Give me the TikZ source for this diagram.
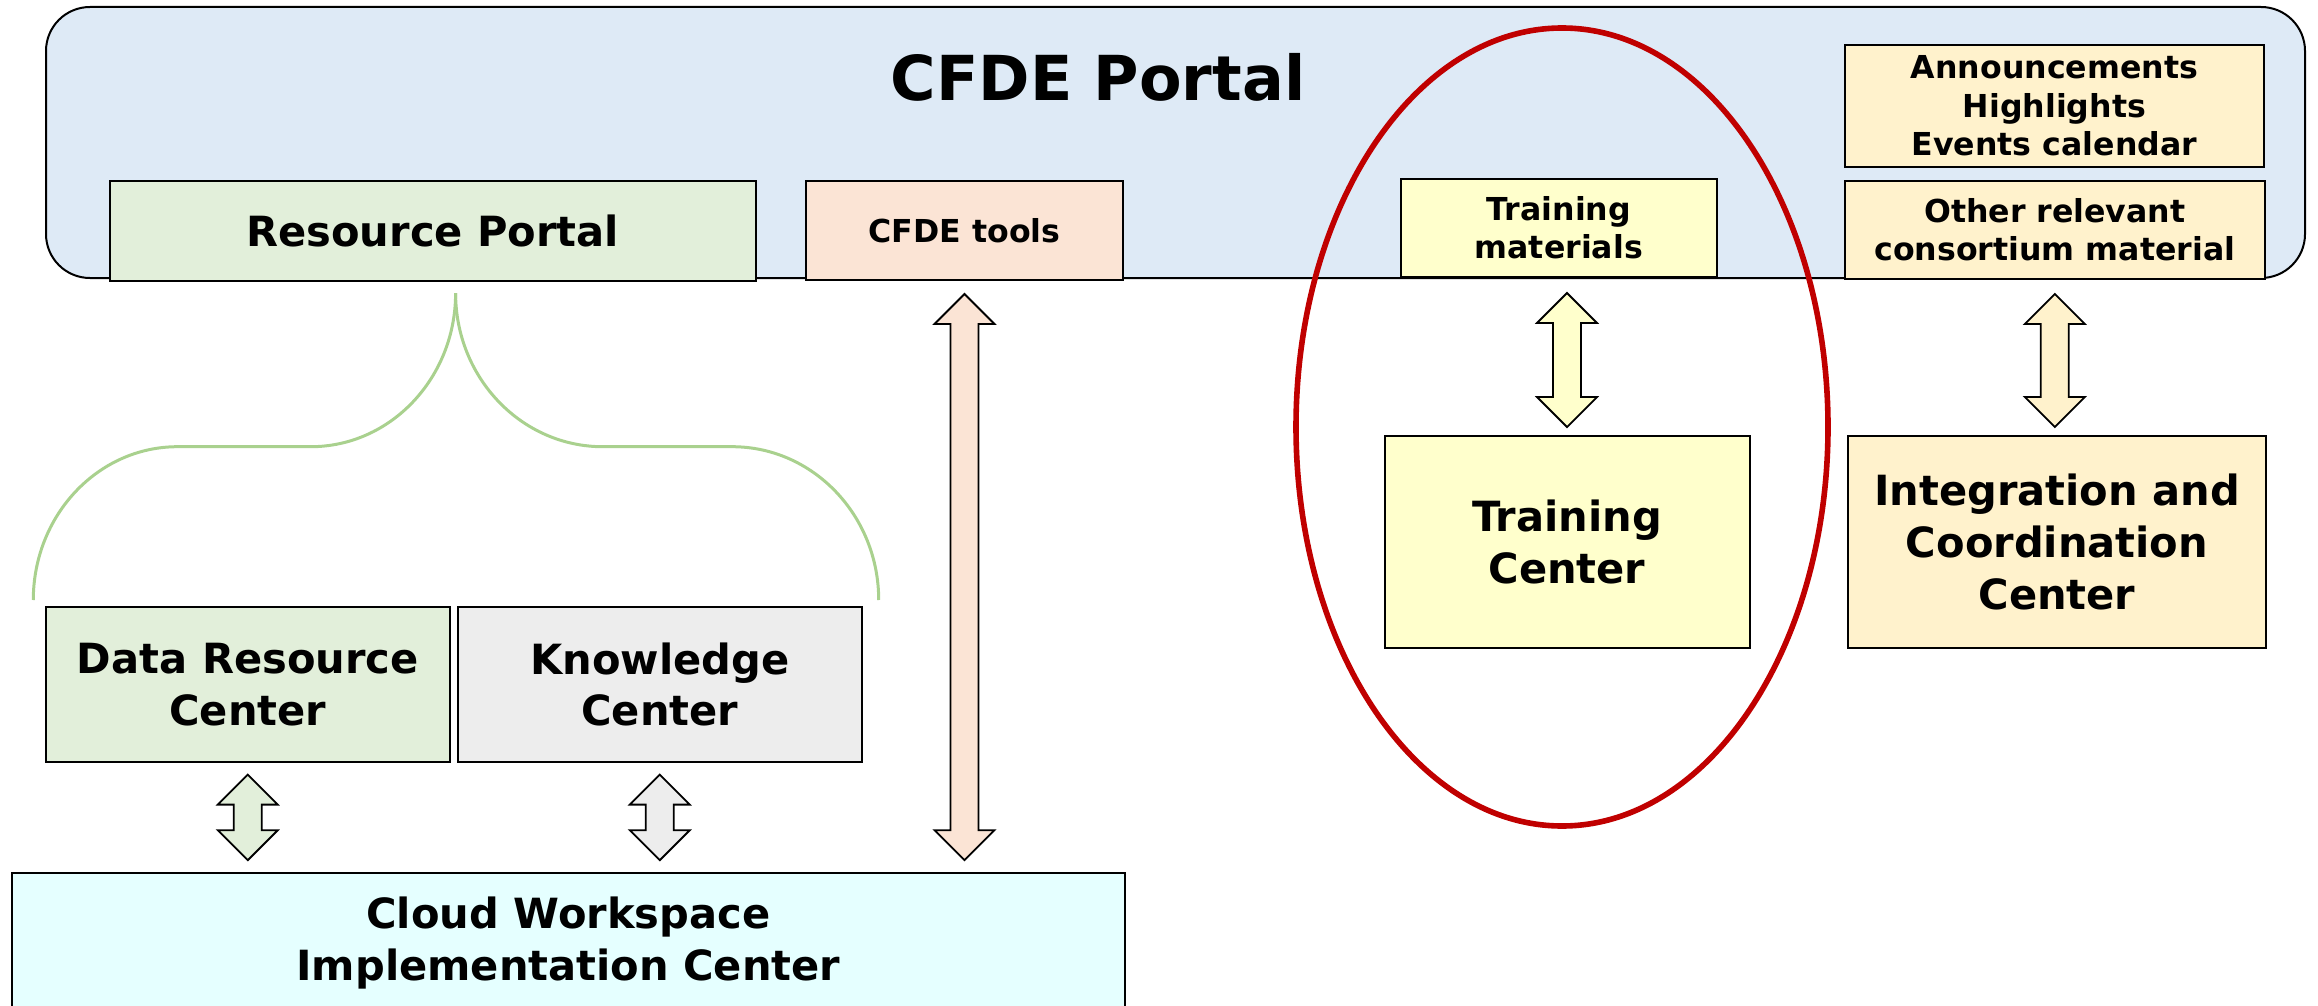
\documentclass[tikz,border=0pt]{standalone}
\usepackage{fontspec}
\setmainfont{DejaVu Sans}
\usetikzlibrary{calc}
\definecolor{portalblue}{HTML}{DEEAF6}
\definecolor{rpgreen}{HTML}{E2EFDA}
\definecolor{toolpeach}{HTML}{FBE4D5}
\definecolor{trainyellow}{HTML}{FFFFCC}
\definecolor{iccyellow}{HTML}{FFF2CC}
\definecolor{kcgray}{HTML}{EDEDED}
\definecolor{cwcyan}{HTML}{E5FFFF}
\definecolor{bracegreen}{HTML}{A9D18E}
\definecolor{darkred}{HTML}{C00000}

\tikzset{
  box/.style={draw=black, line width=1pt, align=center, inner sep=0pt},
  bigtxt/.style={font=\fontsize{31}{37}\selectfont\bfseries},
  midtxt/.style={font=\fontsize{20.8}{25.8}\selectfont\bfseries},
  smalltxt/.style={font=\fontsize{15.8}{19.2}\selectfont\bfseries},
  fatarrow/.style={draw=black, line width=0.9pt, line join=miter},
  brace/.style={draw=bracegreen, line width=1.5pt},
  redring/.style={draw=darkred, line width=2.8pt}
}

% block arrow between two points, drawn straight down from the first
\newcommand{\dblarrow}[3]{%
\draw[fatarrow, fill=#3] let \p1=(#1), \p2=(#2) in
  (\x1,\y1) -- (\x1+15pt,\y1-15pt) -- (\x1+7pt,\y1-15pt) -- (\x1+7pt,\y2+15pt)
  -- (\x1+15pt,\y2+15pt) -- (\x1,\y2) -- (\x1-15pt,\y2+15pt) -- (\x1-7pt,\y2+15pt)
  -- (\x1-7pt,\y1-15pt) -- (\x1-15pt,\y1-15pt) -- cycle;}

\begin{document}
\begin{tikzpicture}[x=1pt, y=-1pt]
\useasboundingbox (0,0) rectangle (1159,503);

\node[box, fill=portalblue, rounded corners=22pt, minimum width=1129.5pt, minimum height=135.5pt] (portal) at (587.75,71.25) {};
\node[bigtxt] (title) at (549,38.75) {CFDE Portal};

\node[box, midtxt, fill=rpgreen, minimum width=323pt, minimum height=50pt] (respor) at (216.4,115.5) {Resource Portal};
\node[box, smalltxt, fill=toolpeach, minimum width=158.5pt, minimum height=49.5pt] (tools) at (482.25,115.25) {CFDE tools};
\node[box, smalltxt, fill=trainyellow, minimum width=158pt, minimum height=49pt] (trainmat) at (779.4,114) {Training\\materials};
\node[box, smalltxt, fill=iccyellow, minimum width=209.7pt, minimum height=60.8pt] (news) at (1027.2,52.9) {Announcements\\Highlights\\Events calendar};
\node[box, smalltxt, fill=iccyellow, minimum width=210pt, minimum height=49pt] (other) at (1027.4,115) {Other relevant\\consortium material};

\node[box, midtxt, fill=rpgreen, minimum width=202pt, minimum height=77.2pt] (drc) at (123.9,342.2) {Data Resource\\Center};
\node[box, midtxt, fill=kcgray, minimum width=201.9pt, minimum height=77.2pt] (kc) at (329.9,342.2) {Knowledge\\Center};
\node[box, midtxt, fill=cwcyan, minimum width=556.6pt, minimum height=70pt] (cwic) at (284.2,471.6) {Cloud Workspace\\Implementation Center};
\node[box, midtxt, fill=trainyellow, minimum width=182.5pt, minimum height=106pt] (tc) at (783.5,271) {Training\\Center};
\node[box, midtxt, fill=iccyellow, minimum width=209.4pt, minimum height=106pt] (icc) at (1028.5,271) {Integration and\\Coordination\\Center};

% brace from the resource portal to its two centers
\draw[brace] (227.8,146.6) .. controls (227.8,189) and (195.3,223.35) .. (155.35,223.35)
  -- (88.75,223.35) .. controls (48.95,223.35) and (16.65,257.7) .. (16.65,300);
\draw[brace] (227.8,146.6) .. controls (227.8,189) and (260.8,223.35) .. (301.4,223.35)
  -- (366.1,223.35) .. controls (406.5,223.35) and (439.35,257.7) .. (439.35,300);

\dblarrow{$(drc.south)+(0,6)$}{$(cwic.north)+(0,-6)$}{rpgreen}
\dblarrow{$(kc.south)+(0,6)$}{$(cwic.north)+(0,-6)$}{kcgray}
\dblarrow{$(tools.south)+(0,6.5)$}{$(cwic.north)+(0,-6)$}{toolpeach}
\dblarrow{$(tc.north |- portal.south)+(0,7)$}{$(tc.north)+(0,-4)$}{trainyellow}
\dblarrow{$(other.south)+(0,7)$}{$(icc.north)+(0,-4)$}{iccyellow}

\draw[redring] (781,213.5) ellipse [x radius=133, y radius=199.5];
\end{tikzpicture}
\end{document}
